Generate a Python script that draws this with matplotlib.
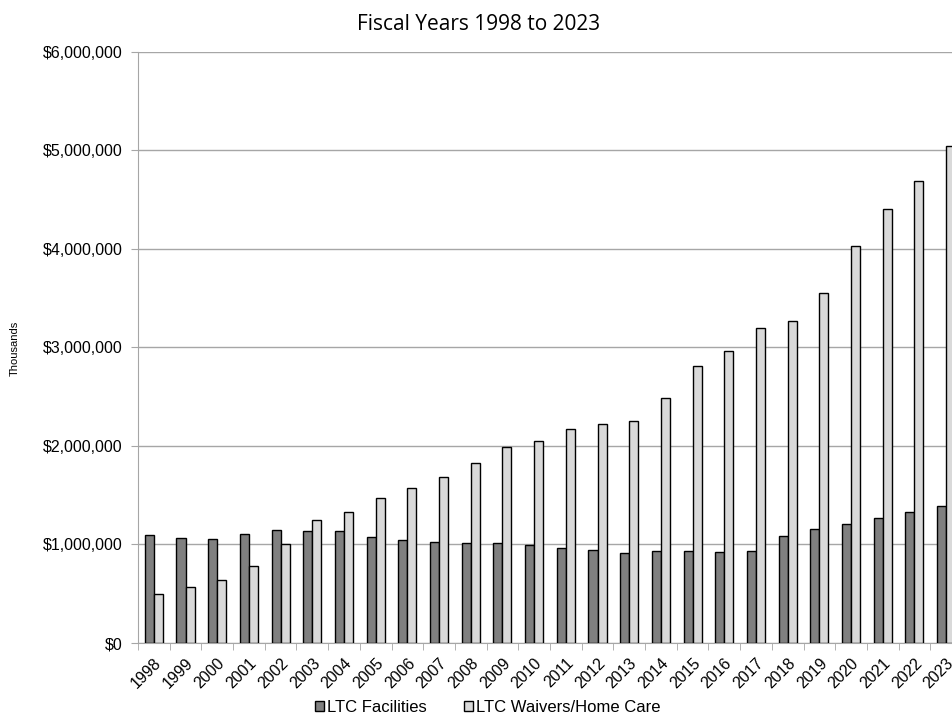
import numpy as np
import matplotlib
matplotlib.use("Agg")
import matplotlib.pyplot as plt
from matplotlib.ticker import FuncFormatter, FixedLocator

# Data (thousands of dollars)
years = [str(y) for y in range(1998, 2024)]
ltc_facilities = [1100000, 1066000, 1056000, 1110000, 1144000, 1137000, 1134000, 1073000,
                  1046000, 1022000, 1012000, 1012000, 995000, 961000, 941000, 917000,
                  937000, 930000, 924000, 930000, 1089000, 1157000, 1211000, 1272000,
                  1333000, 1394000]
ltc_waivers = [500000, 572000, 643000, 779000, 1002000, 1249000, 1327000, 1467000,
               1577000, 1689000, 1824000, 1987000, 2048000, 2176000, 2220000, 2257000,
               2488000, 2810000, 2965000, 3200000, 3270000, 3553000, 4030000, 4406000,
               4690000, 5046000]

plt.rcParams['font.family'] = ['Liberation Sans', 'DejaVu Sans']

fig = plt.figure(figsize=(9.53, 7.19), dpi=100)
ax = fig.add_axes([0.1448, 0.1057, 1.0094 - 0.1448, 0.9277 - 0.1057])

x = np.arange(len(years))
w = 0.285
ax.bar(x - w / 2, ltc_facilities, w, color='#808080', edgecolor='black', linewidth=1,
       label='LTC Facilities', zorder=3)
ax.bar(x + w / 2, ltc_waivers, w, color='#d9d9d9', edgecolor='black', linewidth=1,
       label='LTC Waivers/Home Care', zorder=3)

ax.set_xlim(-0.5, len(years) - 0.5)
ax.set_ylim(0, 6000000)
ax.set_yticks(np.arange(0, 6000001, 1000000))
ax.yaxis.set_major_formatter(FuncFormatter(lambda v, p: '${:,.0f}'.format(v)))
ax.yaxis.grid(True, color='#a6a6a6', linewidth=1, zorder=0)

ax.set_xticks(x)
ax.set_xticklabels(years, rotation=45, ha='right', rotation_mode='anchor', fontsize=11.5)
ax.xaxis.set_minor_locator(FixedLocator(np.arange(-0.5, len(years), 1.0)))
ax.tick_params(axis='x', which='major', length=0, pad=9)
ax.tick_params(axis='x', which='minor', length=5, color='#a6a6a6', direction='out')
ax.tick_params(axis='y', length=5, color='#a6a6a6', labelsize=11.5, pad=6)

for s in ['top', 'right']:
    ax.spines[s].set_visible(False)
ax.spines['left'].set_color('#a6a6a6')
ax.spines['bottom'].set_color('#a6a6a6')

fig.text(0.016, 0.516, 'Thousands', rotation=90, va='center', ha='center', fontsize=8)
fig.text(0.502, 0.966, 'Fiscal Years 1998 to 2023', ha='center', va='center',
         fontsize=15, family=['Open Sans', 'DejaVu Sans'])

fig.legend(loc='center', bbox_to_anchor=(0.512, 0.016), ncol=2, frameon=False,
           fontsize=12, handlelength=0.55, handleheight=0.55, handletextpad=0.2,
           columnspacing=2.2)

fig.savefig('out.png', dpi=100)
